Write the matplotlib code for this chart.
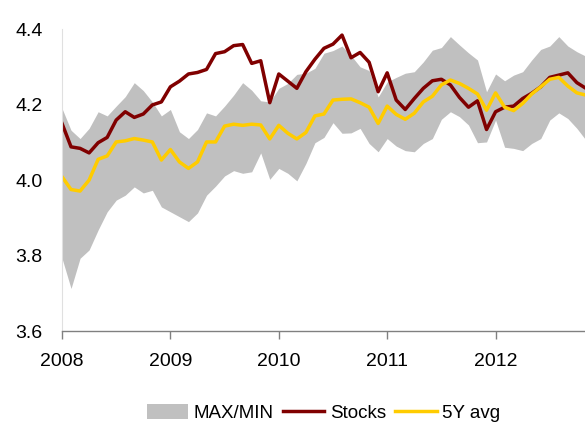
import numpy as np
import matplotlib.pyplot as plt
from matplotlib.patches import Patch
from matplotlib.lines import Line2D

# monthly data, Jan 2008 .. Nov 2012
stocks = [4.15, 4.088, 4.084, 4.072, 4.099, 4.113, 4.159, 4.181, 4.166, 4.175, 4.199, 4.207,
          4.247, 4.262, 4.281, 4.285, 4.293, 4.335, 4.34, 4.356, 4.359, 4.309, 4.316, 4.205,
          4.281, 4.262, 4.243, 4.287, 4.32, 4.349, 4.36, 4.384, 4.324, 4.338, 4.312, 4.234,
          4.284, 4.212, 4.187, 4.216, 4.243, 4.263, 4.267, 4.252, 4.219, 4.193, 4.21, 4.134,
          4.181, 4.193, 4.196, 4.216, 4.23, 4.247, 4.272, 4.278, 4.284, 4.258, 4.243]
avg5y = [4.009, 3.975, 3.971, 4.0, 4.055, 4.064, 4.101, 4.104, 4.11, 4.106, 4.101, 4.053,
         4.081, 4.048, 4.031, 4.048, 4.101, 4.101, 4.143, 4.148, 4.145, 4.148, 4.146, 4.109,
         4.145, 4.124, 4.109, 4.126, 4.17, 4.175, 4.212, 4.214, 4.215, 4.205, 4.193, 4.15,
         4.196, 4.174, 4.161, 4.177, 4.207, 4.222, 4.252, 4.265, 4.256, 4.243, 4.228, 4.185,
         4.231, 4.193, 4.184, 4.203, 4.228, 4.247, 4.267, 4.272, 4.249, 4.231, 4.225]
band_max = [4.19, 4.132, 4.11, 4.137, 4.181, 4.17, 4.196, 4.221, 4.258, 4.237, 4.207, 4.17,
            4.187, 4.128, 4.11, 4.134, 4.178, 4.17, 4.196, 4.225, 4.258, 4.238, 4.21, 4.207,
            4.243, 4.256, 4.28, 4.283, 4.296, 4.336, 4.343, 4.355, 4.33, 4.30, 4.29, 4.22,
            4.26, 4.272, 4.283, 4.287, 4.313, 4.344, 4.351, 4.38, 4.358, 4.337, 4.318, 4.234,
            4.281, 4.263, 4.278, 4.287, 4.318, 4.346, 4.355, 4.38, 4.355, 4.34, 4.328]
band_min = [3.793, 3.713, 3.793, 3.815, 3.868, 3.916, 3.947, 3.96, 3.982, 3.966, 3.973, 3.929,
            3.916, 3.903, 3.89, 3.913, 3.96, 3.984, 4.011, 4.025, 4.018, 4.022, 4.072, 4.002,
            4.031, 4.018, 3.998, 4.044, 4.099, 4.113, 4.152, 4.124, 4.125, 4.137, 4.097, 4.075,
            4.11, 4.09, 4.078, 4.075, 4.097, 4.11, 4.161, 4.181, 4.168, 4.146, 4.099, 4.101,
            4.159, 4.087, 4.084, 4.078, 4.097, 4.11, 4.159, 4.178, 4.163, 4.137, 4.106]
years = ['2008', '2009', '2010', '2011', '2012']

plt.rcParams['font.family'] = ['Liberation Sans', 'DejaVu Sans']

months = np.arange(len(stocks))

fig = plt.figure(figsize=(5.85, 4.24), dpi=100)
ax = fig.add_axes([0.106, 0.219, 0.894, 0.7125])

ax.fill_between(months, band_min, band_max, color='#c0c0c0', linewidth=0)
ax.plot(months, stocks, color='#800000', linewidth=2.5)
ax.plot(months, avg5y, color='#ffcc00', linewidth=2.5)

ax.set_xlim(0, 57.9)
ax.set_ylim(3.6, 4.4)
ax.set_yticks([3.6, 3.8, 4.0, 4.2, 4.4])
ax.set_yticklabels(['3.6', '3.8', '4.0', '4.2', '4.4'])
ax.set_xticks(np.arange(len(years)) * 12)
ax.set_xticklabels(years)

ax.tick_params(axis='y', length=0, pad=14, labelsize=14)
ax.tick_params(axis='x', length=6, width=1, color='#808080', pad=10, labelsize=14)
for s in ['top', 'right']:
    ax.spines[s].set_visible(False)
ax.spines['left'].set_color('#e0e0e0')
ax.spines['left'].set_linewidth(0.8)
ax.spines['bottom'].set_color('#808080')
ax.spines['bottom'].set_linewidth(1)

handles = [Patch(facecolor='#c0c0c0', edgecolor='none'),
           Line2D([], [], color='#800000', linewidth=2.5),
           Line2D([], [], color='#ffcc00', linewidth=2.5)]
ax.legend(handles, ['MAX/MIN', 'Stocks', '5Y avg'], loc='center',
          bbox_to_anchor=(0.5, -0.27), ncol=3, frameon=False, fontsize=13.5,
          handlelength=2.2, handleheight=0.9, handletextpad=0.3, columnspacing=0.5)

fig.savefig('out.png', dpi=100)
